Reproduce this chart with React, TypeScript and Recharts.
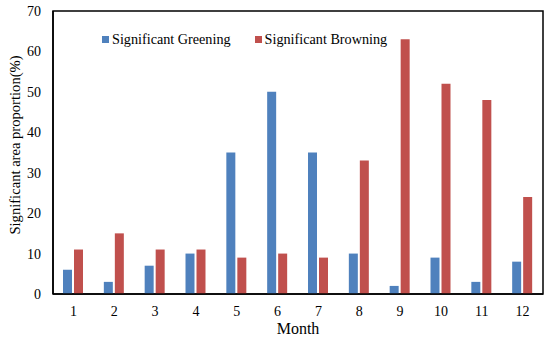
import React from 'react';
import { BarChart, Bar, XAxis, YAxis, ReferenceArea } from 'recharts';

const months = ['1', '2', '3', '4', '5', '6', '7', '8', '9', '10', '11', '12'];
const greening = [6, 3, 7, 10, 35, 50, 35, 10, 2, 9, 3, 8];
const browning = [11, 15, 11, 11, 9, 10, 9, 33, 63, 52, 48, 24];
const yTicks = [0, 10, 20, 30, 40, 50, 60, 70];

const BLUE = '#4F81BD';
const RED = '#C0504D';
const FONT = '"Liberation Serif", "Times New Roman", serif';

const data = months.map((m, i) => ({ month: m, greening: greening[i], browning: browning[i] }));

const LegendContent = () => (
  <div style={{ display: 'flex', alignItems: 'center', fontFamily: FONT, fontSize: 14.2, color: '#000', whiteSpace: 'nowrap' }}>
    <span style={{ display: 'inline-block', width: 7, height: 7, background: BLUE, marginRight: 3 }} />
    <span>Significant Greening</span>
    <span style={{ display: 'inline-block', width: 7, height: 7, background: RED, marginLeft: 24, marginRight: 3 }} />
    <span>Significant Browning</span>
  </div>
);

export default function App() {
  return (
    <div style={{ position: 'absolute', left: 0, top: 0, background: '#fff' }}>
      <div style={{ position: 'relative', width: 550, height: 339 }}>
        <BarChart
          width={550}
          height={339}
          data={data}
          margin={{ top: 11, right: 7, left: 0, bottom: 0 }}
          barSize={9}
          barGap={2}
        >
          <XAxis
            dataKey="month"
            height={45}
            axisLine={{ stroke: '#000', strokeWidth: 1.5 }}
            tickLine={false}
            tickSize={0}
            tickMargin={12}
            tick={{ fill: '#000', fontSize: 14, fontFamily: FONT }}
            label={{
              content: () => (
                <text x={298} y={334} textAnchor="middle" fill="#000" fontSize={16} fontFamily={FONT}>
                  Month
                </text>
              ),
            }}
          />
          <YAxis
            width={53}
            domain={[0, 70]}
            ticks={yTicks}
            interval={0}
            axisLine={{ stroke: '#000', strokeWidth: 1.5 }}
            tickLine={false}
            tickSize={0}
            tickMargin={12}
            tick={{ fill: '#000', fontSize: 14, fontFamily: FONT }}
            label={{
              content: () => (
                <text
                  x={15}
                  y={145}
                  transform="rotate(-90 15 145)"
                  textAnchor="middle"
                  dominantBaseline="central"
                  fill="#000"
                  fontSize={14.6}
                  fontFamily={FONT}
                >
                  Significant area proportion(%)
                </text>
              ),
            }}
          />
          <Bar dataKey="greening" fill={BLUE} isAnimationActive={false} />
          <Bar dataKey="browning" fill={RED} isAnimationActive={false} />
          <ReferenceArea y1={0} y2={70} fill="none" stroke="#000" strokeWidth={1.5} ifOverflow="visible" />
        </BarChart>
        <div style={{ position: 'absolute', left: 102, top: 31 }}>
          <LegendContent />
        </div>
      </div>
    </div>
  );
}
